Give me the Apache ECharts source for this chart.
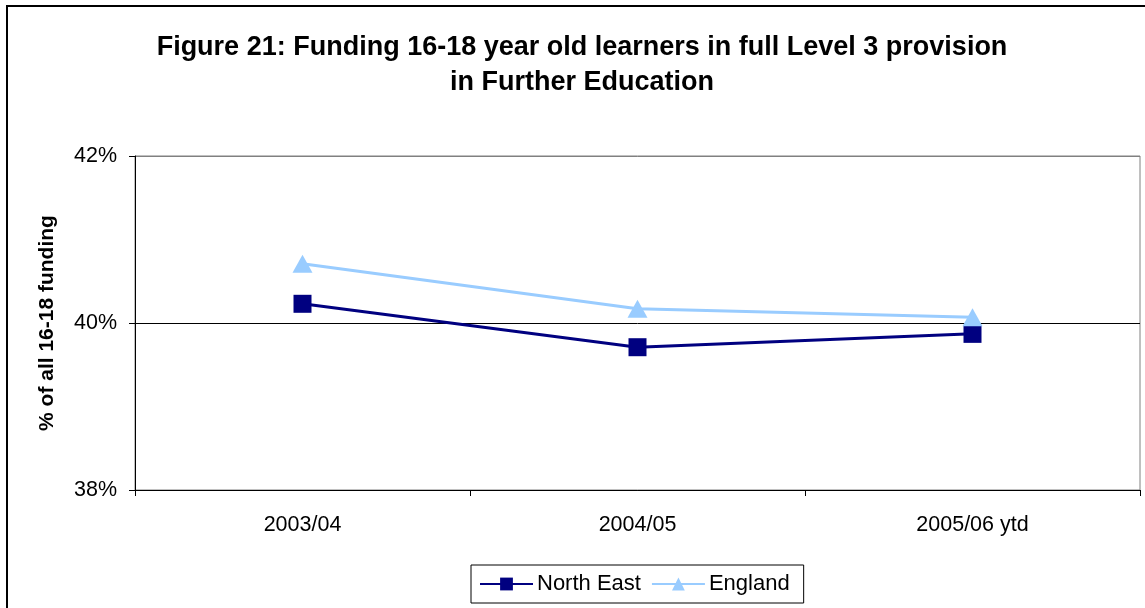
<!DOCTYPE html>
<html>
<head>
<meta charset="utf-8">
<style>
  html, body { margin: 0; padding: 0; background: #fff; }
  #chart { width: 1145px; height: 608px; }
</style>
<script src="https://cdn.jsdelivr.net/npm/echarts@6/dist/echarts.min.js"></script>
</head>
<body>
<div id="chart"></div>
<script>
// Academic years on the category axis
const categories = ['2003/04', '2004/05', '2005/06 ytd'];
// Share of all 16-18 funding (%)
const northEast = [40.23, 39.71, 39.87];
const england = [40.71, 40.17, 40.07];
// Value axis range and step (%)
const yMin = 38;
const yMax = 42;
const yStep = 2;

const titleText = 'Figure 21: Funding 16-18 year old learners in full Level 3 provision\nin Further Education';
const yAxisName = '% of all 16-18 funding';

const font = '"Liberation Sans", Arial, sans-serif';

const chart = echarts.init(document.getElementById('chart'), null, { renderer: 'canvas' });

chart.setOption({
  backgroundColor: '#fff',
  animation: false,
  textStyle: { fontFamily: font },
  graphic: [
    {
      // outer chart frame
      type: 'rect',
      z: -10,
      shape: { x: 7, y: 6, width: 1200, height: 700 },
      style: { fill: 'none', stroke: '#000', lineWidth: 2 }
    },
    {
      // two-line centred heading
      type: 'text',
      x: 582,
      y: 65,
      style: {
        text: titleText,
        fill: '#000',
        font: 'bold 27px ' + font,
        align: 'center',
        verticalAlign: 'middle',
        lineHeight: 35
      }
    }
  ],
  grid: {
    left: 135,
    right: 5,
    top: 156,
    bottom: 118,
    show: true,
    borderColor: '#808080',
    borderWidth: 1,
    backgroundColor: '#fff'
  },
  legend: {
    left: 471,
    top: 565,
    width: 340,
    padding: [8, 14, 8, 8],
    itemGap: 10,
    itemWidth: 53,
    itemHeight: 16,
    borderColor: '#000',
    borderWidth: 1,
    backgroundColor: '#fff',
    textStyle: { fontFamily: font, fontSize: 22, color: '#000', padding: [0, 0, 0, -1] },
    data: ['North East', 'England']
  },
  xAxis: {
    type: 'category',
    data: categories,
    boundaryGap: true,
    axisLine: { lineStyle: { color: '#000', width: 1 } },
    axisTick: { show: true, length: 6, alignWithLabel: false, lineStyle: { color: '#000' } },
    axisLabel: { fontFamily: font, fontSize: 21.5, color: '#000', margin: 24 },
    splitLine: { show: false }
  },
  yAxis: {
    type: 'value',
    min: yMin,
    max: yMax,
    interval: yStep,
    name: yAxisName,
    nameLocation: 'middle',
    nameGap: 77,
    nameTextStyle: { fontFamily: font, fontSize: 21, fontWeight: 'bold', color: '#000' },
    axisLine: { show: true, lineStyle: { color: '#000', width: 1 } },
    axisTick: { show: true, length: 6, inside: false, lineStyle: { color: '#000' } },
    axisLabel: {
      fontFamily: font,
      fontSize: 21.5,
      color: '#000',
      margin: 18,
      formatter: v => v + '%'
    },
    splitLine: { show: true, lineStyle: { color: ['#000', '#000', '#808080'], width: 1 } }
  },
  series: [
    {
      name: 'North East',
      type: 'line',
      data: northEast,
      symbol: 'rect',
      symbolSize: 18,
      lineStyle: { color: '#000080', width: 3 },
      itemStyle: { color: '#000080', borderWidth: 0 },
      z: 3
    },
    {
      name: 'England',
      type: 'line',
      data: england,
      symbol: 'triangle',
      symbolSize: [20, 18],
      lineStyle: { color: '#99CCFF', width: 3 },
      itemStyle: { color: '#99CCFF', borderWidth: 0 },
      z: 4
    }
  ]
});
</script>
</body>
</html>
